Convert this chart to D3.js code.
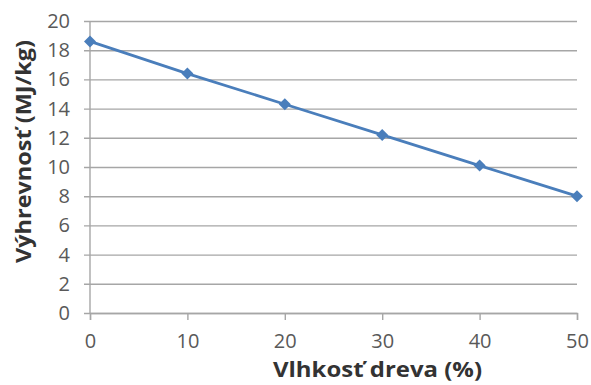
<!DOCTYPE html>
<html>
<head>
<meta charset="utf-8">
<script src="https://cdn.jsdelivr.net/npm/d3@7"></script>
<style>
  html, body { margin: 0; padding: 0; background: #fff; }
  svg { display: block; }
</style>
</head>
<body>
<svg id="chart" width="591" height="385"></svg>
<script>
// Moisture content of wood (%) and the resulting calorific value (MJ/kg)
const moisture = [0, 10, 20, 30, 40, 50];
const calorificValue = [18.6, 16.4, 14.3, 12.2, 10.1, 8.0];
const xTicks = [0, 10, 20, 30, 40, 50];
const yTicks = [0, 2, 4, 6, 8, 10, 12, 14, 16, 18, 20];
const xTitle = "Vlhkosť dreva (%)";
const yTitle = "Výhrevnosť (MJ/kg)";

const svg = d3.select("#chart");
const margin = { left: 90, right: 14, top: 21, bottom: 72 };
const W = 591, H = 385;

const x = d3.scaleLinear().domain([0, 50]).range([margin.left, W - margin.right]);
const y = d3.scaleLinear().domain([0, 20]).range([H - margin.bottom, margin.top]);

const font = "'Open Sans', 'Liberation Sans', sans-serif";
const gridColor = "#a6a6a6";

// Horizontal gridlines, with short ticks to the left of the axis
const yAxis = d3.axisLeft(y).tickValues(yTicks).tickSize(-(x(50) - x(0)))
  .tickFormat(d3.format("d"));
const gy = svg.append("g").attr("transform", `translate(${x(0)},0)`).call(yAxis);
gy.select(".domain").remove();
gy.selectAll(".tick line").attr("stroke", gridColor).attr("stroke-width", 1.4)
  .attr("x1", -6);
gy.selectAll(".tick text").attr("fill", "#595959").attr("font-size", 20)
  .attr("font-family", font).attr("x", -20);

// Vertical axis line
svg.append("line").attr("x1", x(0)).attr("x2", x(0))
  .attr("y1", y(20)).attr("y2", y(0)).attr("stroke", gridColor).attr("stroke-width", 1.4);

// Bottom axis with downward ticks
const xAxis = d3.axisBottom(x).tickValues(xTicks).tickSize(7).tickPadding(14)
  .tickFormat(d3.format("d"));
const gx = svg.append("g").attr("transform", `translate(0,${y(0)})`).call(xAxis);
gx.select(".domain").attr("stroke", gridColor).attr("stroke-width", 1.4);
gx.selectAll(".tick line").attr("stroke", gridColor).attr("stroke-width", 1.4);
gx.selectAll(".tick text").attr("fill", "#595959").attr("font-size", 20)
  .attr("font-family", font);

// Data series
const pts = moisture.map((m, i) => [m, calorificValue[i]]);
svg.append("path")
  .datum(pts)
  .attr("fill", "none")
  .attr("stroke", "#4a7ebb")
  .attr("stroke-width", 2.8)
  .attr("d", d3.line().x(d => x(d[0])).y(d => y(d[1])));

svg.selectAll(".marker")
  .data(pts)
  .join("path")
  .attr("class", "marker")
  .attr("transform", d => `translate(${x(d[0])},${y(d[1])})`)
  .attr("d", "M0,-6L6,0L0,6L-6,0Z")
  .attr("fill", "#4a7ebb");

// Axis titles
svg.append("text")
  .attr("x", 273)
  .attr("y", 377)
  .attr("textLength", 209)
  .attr("lengthAdjust", "spacingAndGlyphs")
  .attr("font-family", font)
  .attr("font-weight", "bold")
  .attr("font-size", 22)
  .attr("fill", "#333333")
  .text(xTitle);

svg.append("text")
  .attr("transform", `translate(31,263) rotate(-90)`)
  .attr("textLength", 223)
  .attr("lengthAdjust", "spacingAndGlyphs")
  .attr("font-family", font)
  .attr("font-weight", "bold")
  .attr("font-size", 22)
  .attr("fill", "#333333")
  .text(yTitle);
</script>
</body>
</html>
